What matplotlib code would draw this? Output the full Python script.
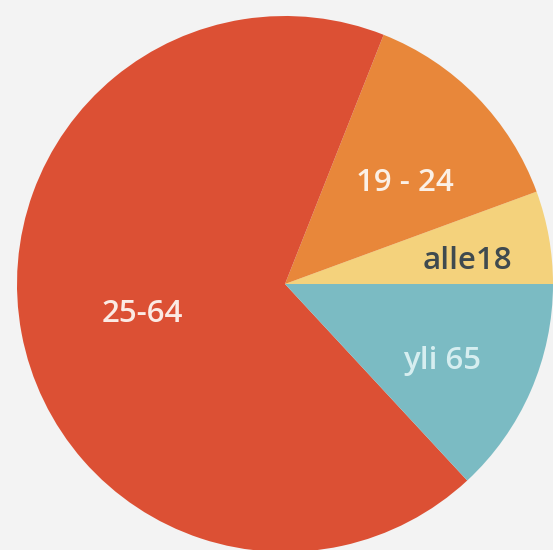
import numpy as np
import matplotlib
matplotlib.use("Agg")
import matplotlib.pyplot as plt

categories = ["alle18", "19 - 24", "25-64", "yli 65"]
values = [5.6, 13.4, 67.9, 13.1]
colors = ["#f4d27c", "#e8873a", "#dc5034", "#7bbbc3"]
label_colors = ["#3f4a4f", "#fbf0e6", "#fbeae4", "#d6eef0"]
label_r = [0.688, 0.585, 0.545, 0.653]
label_ang = [7.2, 40.1, 191.8, -26.1]

W, H = 553, 550
fig = plt.figure(figsize=(W / 100, H / 100), dpi=100)
fig.patch.set_facecolor("#f3f3f3")
ax = fig.add_axes([0, 0, 1, 1])

cx, cy, R = 285, 266, 268
ax.pie(values, colors=colors, startangle=0, counterclock=True,
       center=(cx, cy), radius=R, frame=True,
       wedgeprops=dict(linewidth=0))
ax.set_xlim(0, W)
ax.set_ylim(0, H)
ax.set_aspect("equal")
ax.axis("off")

for lab, col, r, a in zip(categories, label_colors, label_r, label_ang):
    t = np.deg2rad(a)
    ax.text(cx + r * R * np.cos(t), cy + r * R * np.sin(t), lab,
            color=col, fontsize=22.5, ha="center", va="center",
            fontweight="semibold",
            family=["Open Sans", "DejaVu Sans"])

fig.savefig("out.png", dpi=100, facecolor=fig.get_facecolor())
